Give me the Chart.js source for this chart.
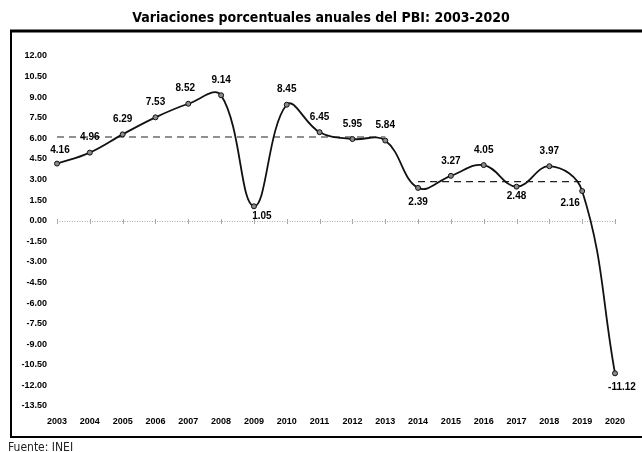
<!DOCTYPE html>
<html>
<head>
<meta charset="utf-8">
<script src="https://cdn.jsdelivr.net/npm/chart.js@4.4.1/dist/chart.umd.min.js"></script>
<style>
  body { margin: 0; background: #fff; }
</style>
</head>
<body>
<canvas id="pbi" width="642" height="452"></canvas>
<script>
const years = ['2003', '2004', '2005', '2006', '2007', '2008', '2009', '2010', '2011',
  '2012', '2013', '2014', '2015', '2016', '2017', '2018', '2019', '2020'];
const pbiVar = [4.16, 4.96, 6.29, 7.53, 8.52, 9.14, 1.05, 8.45, 6.45,
  5.95, 5.84, 2.39, 3.27, 4.05, 2.48, 3.97, 2.16, -11.12];
// promedios de cada tramo (lineas discontinuas)
const prom2003_2013 = [6.1, 6.1, 6.1, 6.1, 6.1, 6.1, 6.1, 6.1, 6.1, 6.1, 6.1,
  null, null, null, null, null, null, null];
const prom2014_2019 = [null, null, null, null, null, null, null, null, null, null, null,
  2.85, 2.85, 2.85, 2.85, 2.85, 2.85, null];
const yMin = -13.5;
const yMax = 12;
const yStep = 1.5;
const titulo = 'Variaciones porcentuales anuales del PBI: 2003-2020';

const FONT = '"Liberation Sans", Arial, sans-serif';
const NARROW = '"Liberation Sans Narrow", "DejaVu Sans Condensed", "Liberation Sans", sans-serif';

// desplazamiento de cada etiqueta respecto a su punto
const labelPos = {
  0: [3, -13], 4: [-3, -16], 6: [8, 10], 11: [0, 14],
  14: [0, 10], 16: [-12, 12], 17: [7, 14]
};

const marco = {
  id: 'marco',
  beforeDatasetsDraw(chart) {
    const { ctx, scales: { x, y } } = chart;
    const y0 = Math.round(y.getPixelForValue(0)) + 0.5;
    ctx.save();
    ctx.strokeStyle = '#a8a8a8';
    ctx.lineWidth = 1;
    ctx.setLineDash([1, 1.5]);
    ctx.beginPath();
    ctx.moveTo(x.getPixelForValue(0), y0);
    ctx.lineTo(x.getPixelForValue(years.length - 1), y0);
    ctx.stroke();
    ctx.setLineDash([]);
    years.forEach((_, i) => {
      const px = Math.round(x.getPixelForValue(i)) + 0.5;
      ctx.beginPath();
      ctx.moveTo(px, y0 - 2.5);
      ctx.lineTo(px, y0 + 2.5);
      ctx.stroke();
    });
    ctx.restore();
  },
  afterDraw(chart) {
    const ctx = chart.ctx;
    ctx.save();
    ctx.fillStyle = '#000';
    ctx.font = 'bold 14px ' + NARROW;
    ctx.textAlign = 'center';
    ctx.textBaseline = 'middle';
    ctx.fillText(titulo, 321, 18);

    ctx.strokeStyle = '#000';
    ctx.lineWidth = 3;
    ctx.beginPath();
    ctx.moveTo(10, 31);
    ctx.lineTo(642, 31);
    ctx.stroke();
    ctx.lineWidth = 2;
    ctx.beginPath();
    ctx.moveTo(11, 31);
    ctx.lineTo(11, 437);
    ctx.lineTo(642, 437);
    ctx.stroke();

    ctx.fillStyle = '#222';
    ctx.font = '12px ' + NARROW;
    ctx.textAlign = 'left';
    ctx.fillText('Fuente: INEI', 8, 448);
    ctx.restore();
  }
};

const etiquetas = {
  id: 'etiquetas',
  afterDatasetsDraw(chart) {
    const ctx = chart.ctx;
    const meta = chart.getDatasetMeta(0);
    ctx.save();
    ctx.fillStyle = '#000';
    ctx.font = 'bold 10px ' + FONT;
    ctx.textAlign = 'center';
    ctx.textBaseline = 'middle';
    meta.data.forEach((pt, i) => {
      const off = labelPos[i] || [0, -15];
      ctx.fillText(pbiVar[i].toFixed(2), pt.x + off[0], pt.y + off[1]);
    });
    ctx.restore();
  }
};

new Chart(document.getElementById('pbi'), {
  type: 'line',
  data: {
    labels: years,
    datasets: [
      {
        data: pbiVar,
        borderColor: '#111',
        borderWidth: 1.8,
        tension: 0.4,
        pointRadius: 2.5,
        pointBorderWidth: 1,
        pointBorderColor: '#111',
        pointBackgroundColor: '#8a8a8a'
      },
      {
        data: prom2003_2013,
        borderColor: '#222',
        borderWidth: 1.2,
        borderDash: [7, 5],
        pointRadius: 0,
        tension: 0
      },
      {
        data: prom2014_2019,
        borderColor: '#222',
        borderWidth: 1.2,
        borderDash: [7, 5],
        pointRadius: 0,
        tension: 0
      }
    ]
  },
  options: {
    responsive: false,
    animation: false,
    devicePixelRatio: 1,
    layout: { padding: { left: 0, right: 27, top: 56, bottom: 0 } },
    plugins: {
      legend: { display: false },
      tooltip: { enabled: false },
      title: { display: false }
    },
    scales: {
      x: {
        offset: false,
        grid: { display: false, drawTicks: false },
        border: { display: false },
        ticks: {
          color: '#000',
          font: { family: FONT, size: 9, weight: 'bold' },
          padding: 10,
          maxRotation: 0,
          autoSkip: false
        },
        afterFit(scale) { scale.height = 46; }
      },
      y: {
        min: yMin,
        max: yMax,
        grid: { display: false, drawTicks: false },
        border: { display: false },
        ticks: {
          stepSize: yStep,
          color: '#000',
          font: { family: FONT, size: 9, weight: 'bold' },
          padding: 10,
          callback: v => v.toFixed(2)
        },
        afterFit(scale) { scale.width = 57; }
      }
    }
  },
  plugins: [marco, etiquetas]
});
</script>
</body>
</html>
